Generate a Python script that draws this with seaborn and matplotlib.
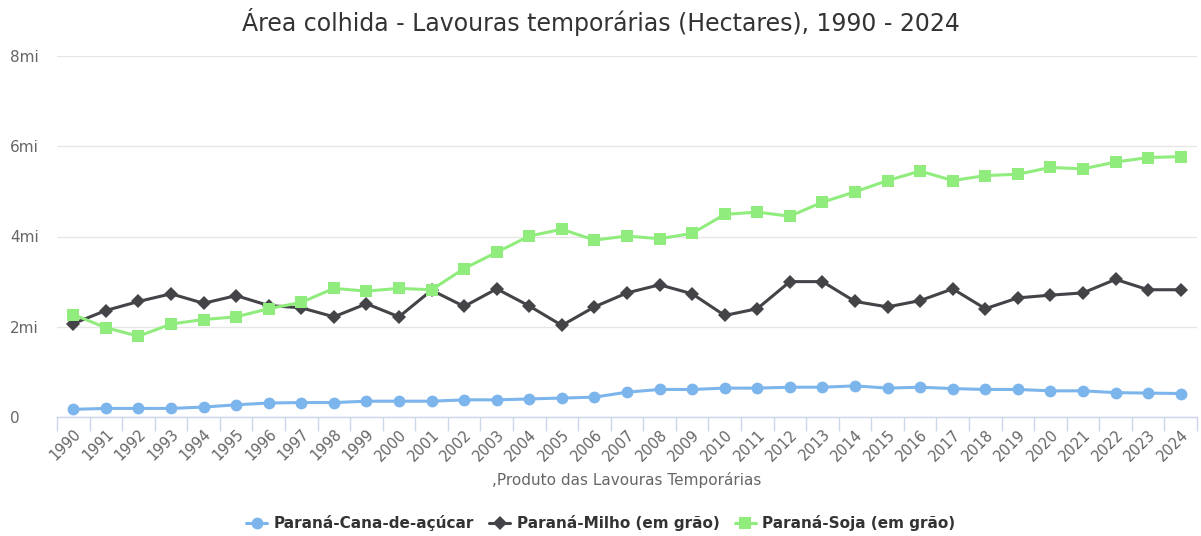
import matplotlib.pyplot as plt
import seaborn as sns
import pandas as pd
from matplotlib.ticker import FixedLocator, FuncFormatter

years = [str(y) for y in range(1990, 2025)]

cana = [0.17, 0.19, 0.19, 0.19, 0.22, 0.27, 0.31, 0.32, 0.32, 0.35,
        0.35, 0.35, 0.38, 0.38, 0.40, 0.42, 0.44, 0.55, 0.61, 0.61,
        0.64, 0.64, 0.66, 0.66, 0.69, 0.64, 0.66, 0.63, 0.61, 0.61,
        0.58, 0.58, 0.54, 0.53, 0.52]
milho = [2.07, 2.36, 2.56, 2.73, 2.52, 2.69, 2.47, 2.42, 2.22, 2.51,
         2.22, 2.81, 2.45, 2.84, 2.46, 2.03, 2.44, 2.75, 2.93, 2.73,
         2.25, 2.40, 3.00, 3.00, 2.56, 2.44, 2.58, 2.84, 2.40, 2.64,
         2.70, 2.75, 3.05, 2.82, 2.82]
soja = [2.27, 1.98, 1.79, 2.06, 2.16, 2.22, 2.40, 2.54, 2.85, 2.79,
        2.85, 2.82, 3.29, 3.65, 4.01, 4.16, 3.92, 4.01, 3.95, 4.07,
        4.49, 4.54, 4.45, 4.76, 4.99, 5.24, 5.45, 5.24, 5.35, 5.38,
        5.53, 5.50, 5.65, 5.75, 5.77]

series_names = ["Paraná-Cana-de-açúcar", "Paraná-Milho (em grão)", "Paraná-Soja (em grão)"]
y_ticks = [0, 2, 4, 6, 8]

rows = []
for name, vals in zip(series_names, [cana, milho, soja]):
    for i, v in enumerate(vals):
        rows.append({"pos": i, "ano": years[i], "valor": v * 1e6, "serie": name})
df = pd.DataFrame(rows)

sns.set_theme(style="white")
plt.rcParams['font.family'] = ['DejaVu Sans']

palette = dict(zip(series_names, ["#7cb5ec", "#434348", "#90ed7d"]))
markers = dict(zip(series_names, ["o", "D", "s"]))
msizes = {"o": 8.5, "D": 7.5, "s": 8.5}

fig = plt.figure(figsize=(12.01, 5.36), dpi=100)
ax = fig.add_axes([57 / 1201, 1 - 417 / 536, (1197 - 57) / 1201, (417 - 56) / 536])

for name in series_names:
    sub = df[df["serie"] == name]
    sns.lineplot(data=sub, x="pos", y="valor", ax=ax, color=palette[name],
                 marker=markers[name], markersize=msizes[markers[name]],
                 markeredgewidth=0, linewidth=2.2, label=name, legend=False)

ax.set_xlim(-0.5, len(years) - 0.5)
ax.set_ylim(0, 8e6)
ax.yaxis.set_major_locator(FixedLocator([t * 1e6 for t in y_ticks]))
ax.yaxis.set_major_formatter(FuncFormatter(lambda v, p: "0" if v == 0 else f"{int(v / 1e6)}mi"))
ax.grid(axis="y", color="#e6e6e6", linewidth=1)
ax.set_axisbelow(True)

ax.set_xticks(range(len(years)))
ax.set_xticklabels(years, rotation=45, ha="right", rotation_mode="anchor",
                   fontsize=10.5, color="#666666")
ax.set_xticks([i + 0.5 for i in range(-1, len(years))], minor=True)
ax.tick_params(axis="x", which="both", bottom=True)
ax.tick_params(axis="x", which="major", length=0, pad=7)
ax.tick_params(axis="x", which="minor", length=10, color="#ccd6eb", width=1)
ax.tick_params(axis="y", length=0, labelsize=11, labelcolor="#666666", pad=34)
for lab in ax.get_yticklabels():
    lab.set_horizontalalignment("left")

for s in ["top", "right", "left"]:
    ax.spines[s].set_visible(False)
ax.spines["bottom"].set_color("#ccd6eb")
ax.spines["bottom"].set_linewidth(1)

ax.set_ylabel("")
ax.set_xlabel(",Produto das Lavouras Temporárias", fontsize=11, color="#666666", labelpad=6)

fig.suptitle("Área colhida - Lavouras temporárias (Hectares), 1990 - 2024",
             x=0.5, y=0.985, fontsize=17, color="#333333")

handles, labels = ax.get_legend_handles_labels()
leg = fig.legend(handles, labels, loc="center", bbox_to_anchor=(0.5, 1 - 523 / 536),
                 ncol=3, frameon=False, prop={"weight": "bold", "size": 11},
                 handlelength=1.4, columnspacing=1.0, handletextpad=0.4)
for t in leg.get_texts():
    t.set_color("#333333")

fig.savefig("out.png", dpi=100, facecolor="white")
